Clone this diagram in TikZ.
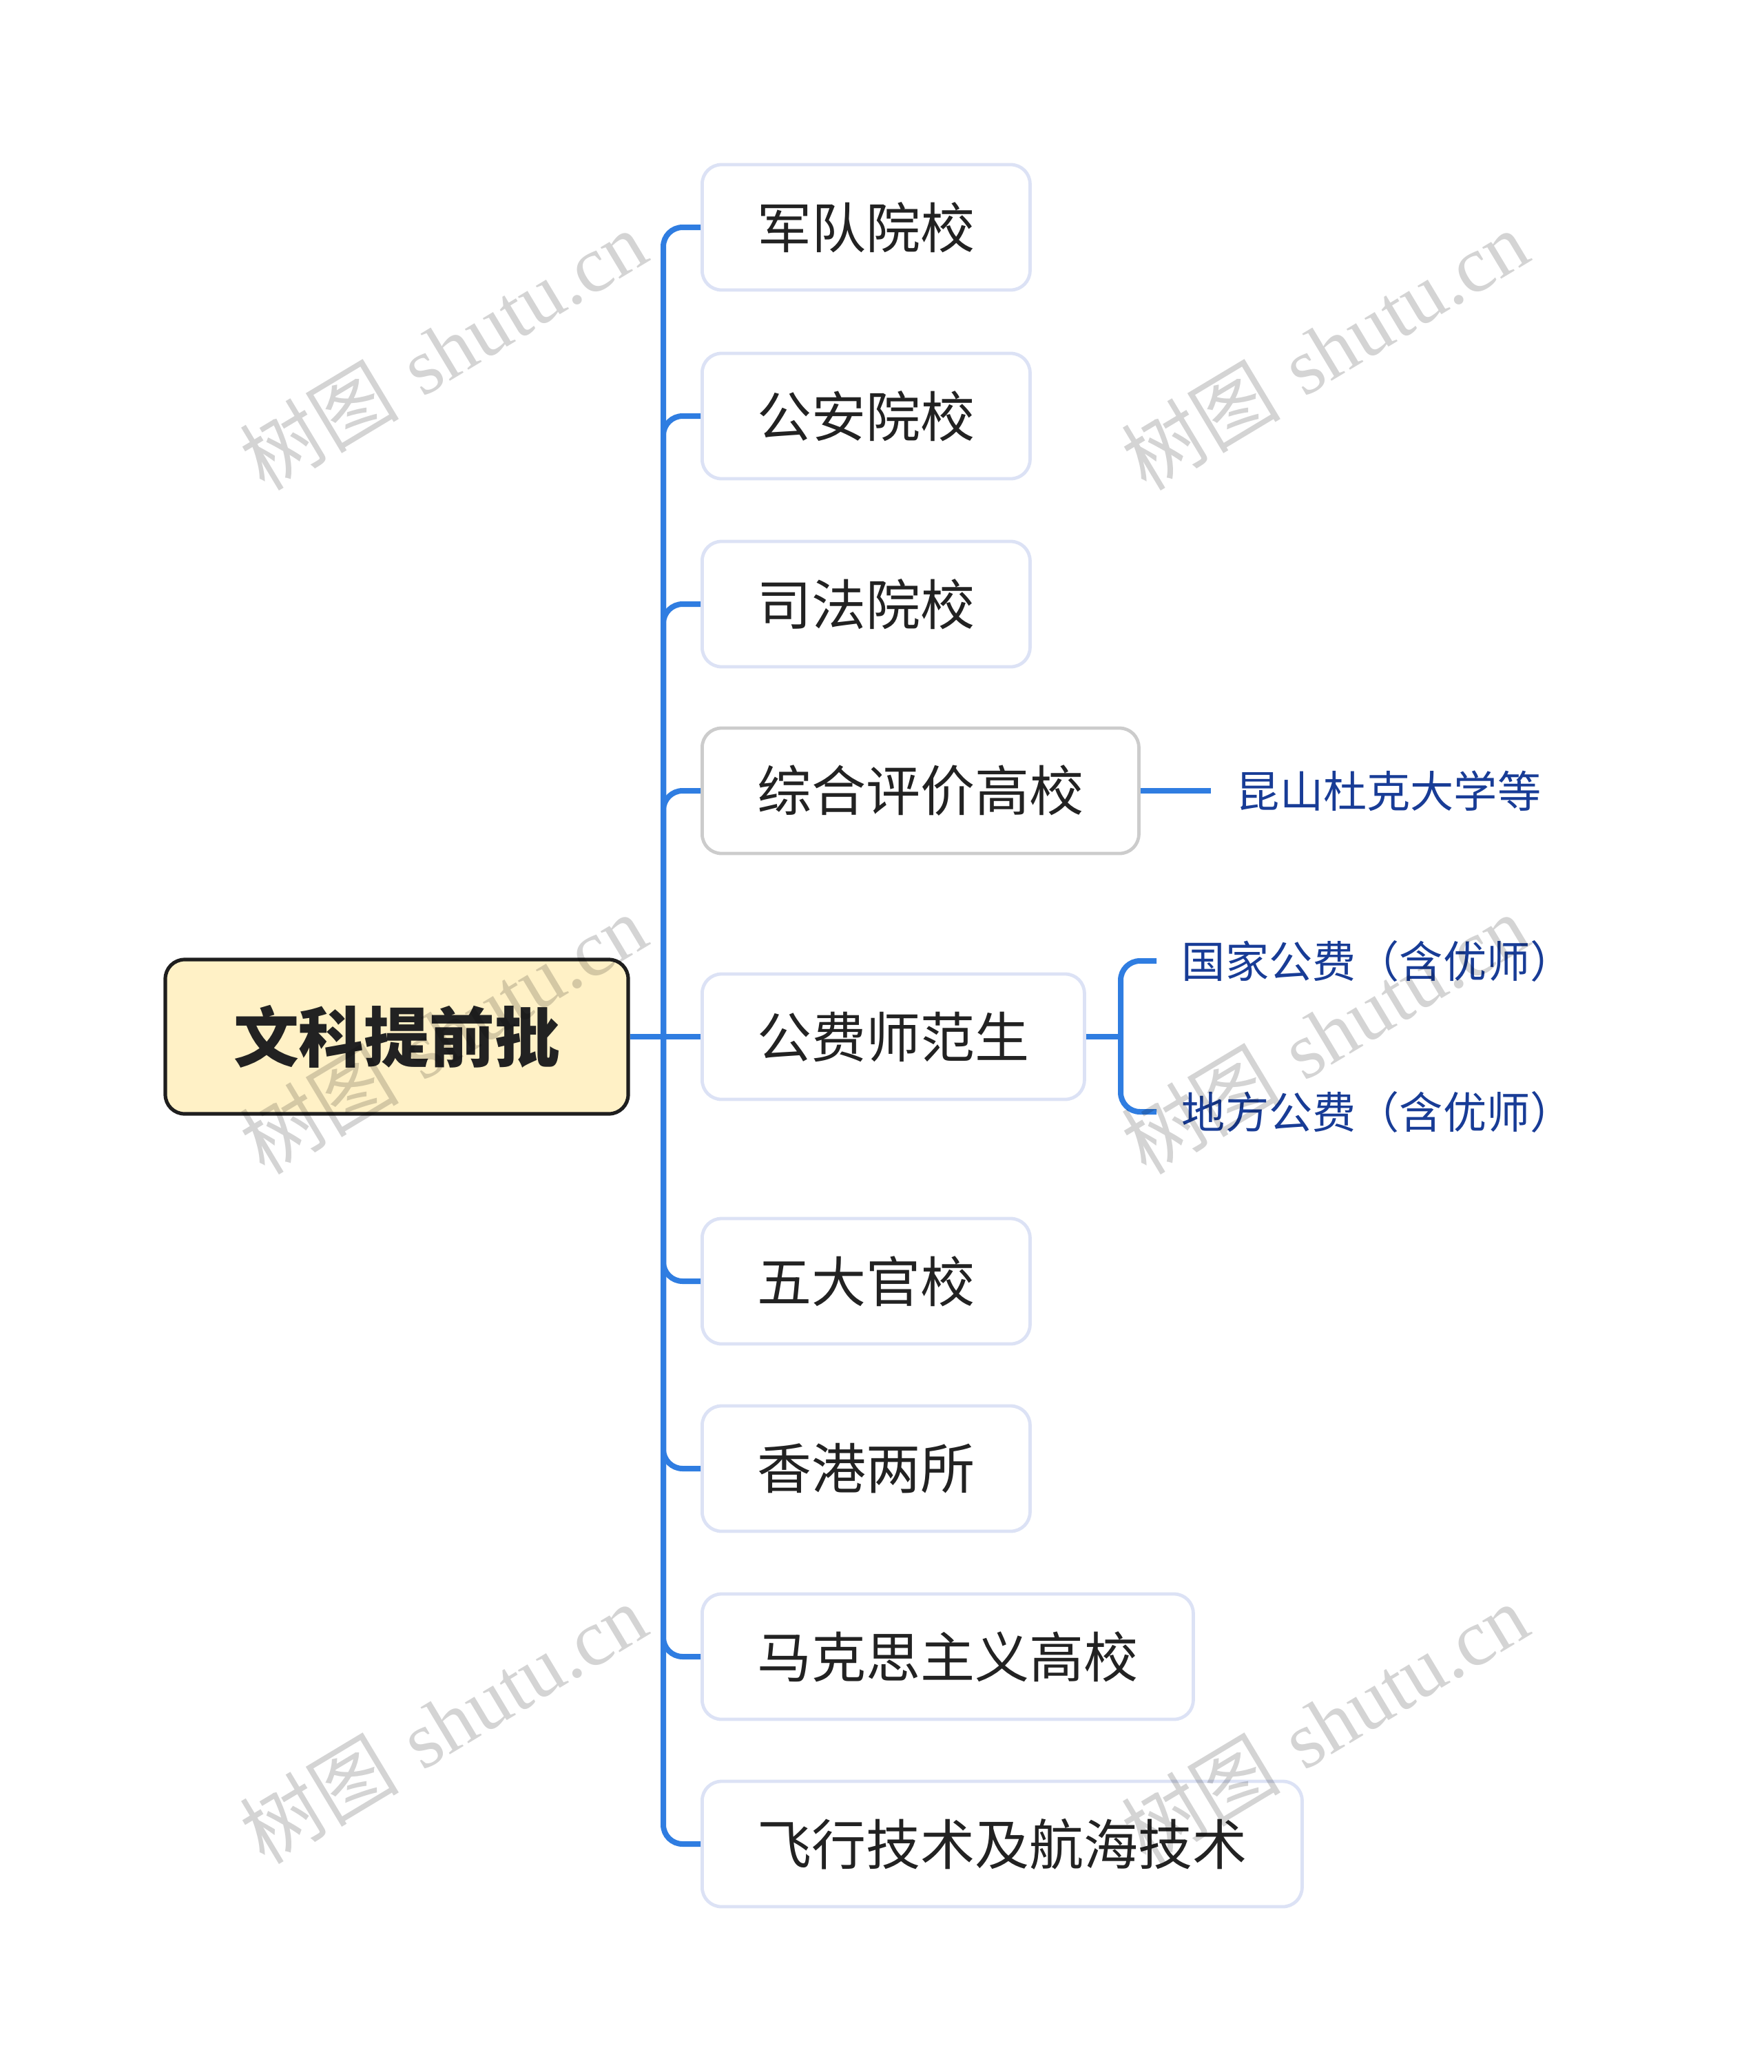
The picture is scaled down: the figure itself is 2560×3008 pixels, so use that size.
\documentclass[tikz,border=0pt]{standalone}
\usepackage{fontspec}
\usepackage{tikz}
\usetikzlibrary{
  chains,
  scopes
}
\newfontfamily\cjk{Noto Sans CJK SC}
\newfontfamily\wmlatin{Liberation Serif}
\definecolor{linkblue}{HTML}{2F7DE1}
\definecolor{boxline}{HTML}{DCE2F5}
\definecolor{boxgray}{HTML}{CCCCCC}
\definecolor{rootfill}{HTML}{FFF1C6}
\definecolor{rootline}{HTML}{1E1E1E}
\definecolor{inkdark}{HTML}{222222}
\definecolor{labelblue}{HTML}{183C96}

\begin{document}
\begin{tikzpicture}[
      x=0.25pt,y=-0.25pt,
      root/.style={
         rectangle,
         rounded corners=7pt,
         minimum width=168pt,
         minimum height=56pt,
         line width=1.3pt,
         draw=rootline,
         fill=rootfill,
         text=inkdark,
         font=\cjk\bfseries\fontsize{23.7}{26}\selectfont
      },
      branch/.style={
         rectangle,
         anchor=west,
         rounded corners=7pt,
         minimum height=45.5pt,
         inner xsep=20pt,
         line width=1.2pt,
         draw=boxline,
         fill=white,
         text=inkdark,
         font=\cjk\fontsize{19.75}{22}\selectfont
      },
      leaf/.style={
         anchor=west,
         inner xsep=9pt,
         inner ysep=0pt,
         text=labelblue,
         font=\cjk\fontsize{15.8}{18}\selectfont
      },
      watermark/.style={
         rotate=31,
         text=black,
         text opacity=0.17,
         font=\fontsize{29}{32}\selectfont
      },
      point/.style={coordinate},
      link/.style={line width=2pt,draw=linkblue},
      every join/.style={link,rounded corners=7pt},
      hv path/.style={to path={-| (\tikztotarget)}},
      vh path/.style={to path={|- (\tikztotarget)}}
    ]
    \useasboundingbox (0,0) rectangle (2560,3008);
    \node (n0) [root] at (576,1505) {文科提前批};
    \node (t0) [point] at (963,1505) {};
    \node (n1) [branch] at (1017,330) {军队院校};
    \node (n2) [branch] at (1017,604) {公安院校};
    \node (n3) [branch] at (1017,877) {司法院校};
    \node (n4) [branch,draw=boxgray] at (1017,1148) {综合评价高校};
    \node (n41) [leaf] at (1758,1148) {昆山杜克大学等};
    \node (n5) [branch] at (1017,1505) {公费师范生};
    \node (t5) [point] at (1627,1505) {};
    \node (n51) [leaf] at (1679,1395) {国家公费（含优师）};
    \node (n52) [leaf] at (1679,1614) {地方公费（含优师）};
    \node (n6) [branch] at (1017,1860) {五大官校};
    \node (n7) [branch] at (1017,2132) {香港两所};
    \node (n8) [branch] at (1017,2405) {马克思主义高校};
    \node (n9) [branch] at (1017,2677) {飞行技术及航海技术};
  { [start chain]
       \chainin (n0);
       \chainin (t0)    [join];
  }
  { [start chain]
       \chainin (t0);
       \chainin (n1)    [join=by vh path];
  }
  { [start chain]
       \chainin (t0);
       \chainin (n2)    [join=by vh path];
  }
  { [start chain]
       \chainin (t0);
       \chainin (n3)    [join=by vh path];
  }
  { [start chain]
       \chainin (t0);
       \chainin (n4)    [join=by vh path];
       \chainin (n41)   [join];
  }
  { [start chain]
       \chainin (t0);
       \chainin (n5)    [join];
       \chainin (t5)    [join];
       \chainin (n51)   [join=by vh path];
  }
  { [start chain]
       \chainin (t5);
       \chainin (n52)   [join=by vh path];
  }
  { [start chain]
       \chainin (t0);
       \chainin (n6)    [join=by vh path];
  }
  { [start chain]
       \chainin (t0);
       \chainin (n7)    [join=by vh path];
  }
  { [start chain]
       \chainin (t0);
       \chainin (n8)    [join=by vh path];
  }
  { [start chain]
       \chainin (t0);
       \chainin (n9)    [join=by vh path];
  }
    % watermark
    \node (wm1) [watermark] at (643,508) {{\cjk 树图} {\wmlatin shutu.cn}};
    \node (wm2) [watermark] at (1923,508) {{\cjk 树图} {\wmlatin shutu.cn}};
    \node (wm3) [watermark] at (643,1501) {{\cjk 树图} {\wmlatin shutu.cn}};
    \node (wm4) [watermark] at (1923,1501) {{\cjk 树图} {\wmlatin shutu.cn}};
    \node (wm5) [watermark] at (643,2502) {{\cjk 树图} {\wmlatin shutu.cn}};
    \node (wm6) [watermark] at (1923,2502) {{\cjk 树图} {\wmlatin shutu.cn}};
\end{tikzpicture}
\end{document}
